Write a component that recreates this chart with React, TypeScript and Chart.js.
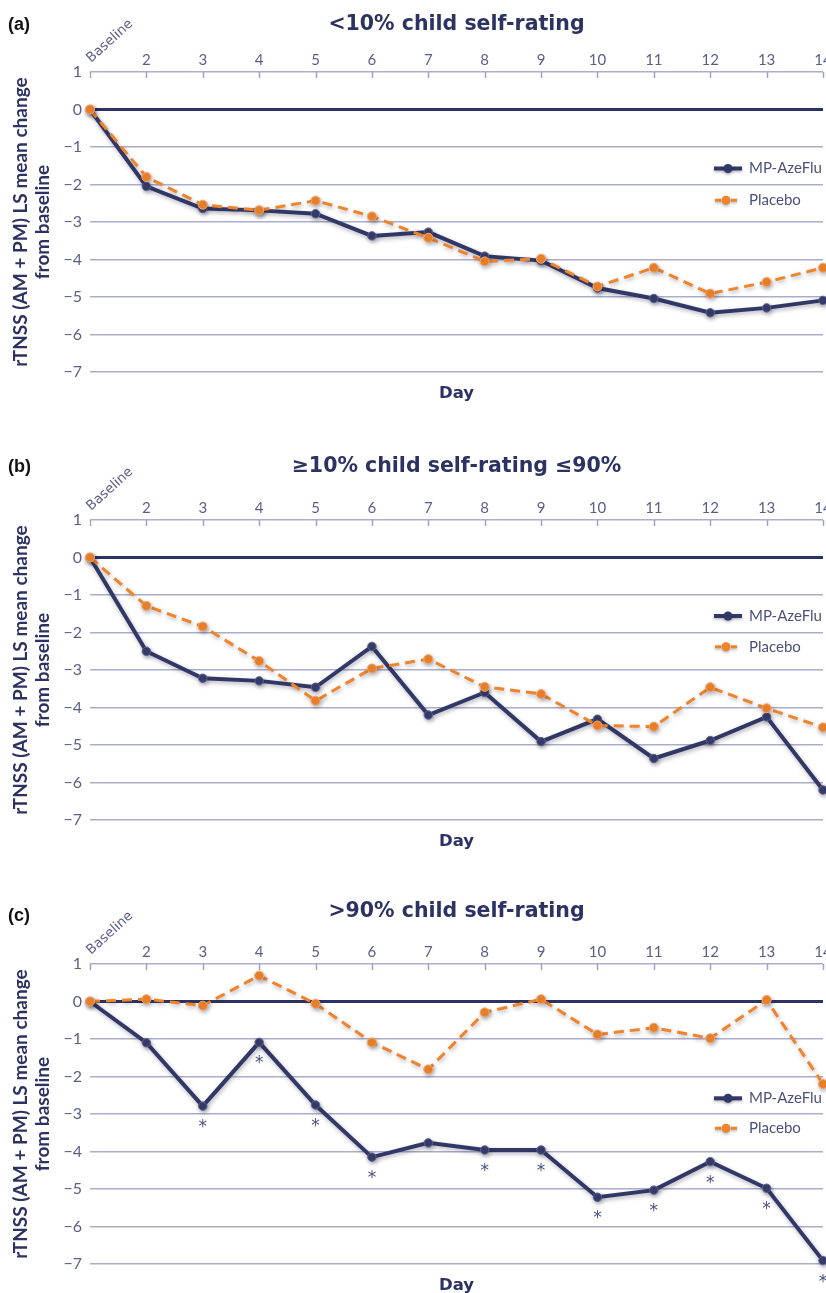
import React, { useEffect, useRef } from "react";
import { Chart, registerables } from "chart.js";

Chart.register(...registerables);

// ---------- data ----------
const days = ["Baseline", "2", "3", "4", "5", "6", "7", "8", "9", "10", "11", "12", "13", "14"];
const seriesNames = ["MP-AzeFlu", "Placebo"];

const aAze = [0, -2.05, -2.64, -2.69, -2.78, -3.37, -3.27, -3.91, -4.03, -4.76, -5.04, -5.42, -5.29, -5.09];
const aPla = [0, -1.8, -2.54, -2.69, -2.43, -2.85, -3.42, -4.05, -3.98, -4.72, -4.22, -4.91, -4.6, -4.22];

const bAze = [0, -2.5, -3.22, -3.29, -3.46, -2.37, -4.2, -3.6, -4.91, -4.31, -5.36, -4.88, -4.25, -6.2];
const bPla = [0, -1.29, -1.84, -2.76, -3.82, -2.96, -2.71, -3.45, -3.64, -4.48, -4.51, -3.46, -4.02, -4.53];

const cAze = [0, -1.1, -2.79, -1.09, -2.76, -4.15, -3.77, -3.96, -3.96, -5.22, -5.03, -4.27, -4.98, -6.91];
const cPla = [0, 0.06, -0.11, 0.69, -0.06, -1.09, -1.81, -0.29, 0.06, -0.88, -0.7, -0.98, 0.04, -2.2];
const cSig = [false, false, true, true, true, true, false, true, true, true, true, true, true, true];

const yMin = -7;
const yMax = 1;
const yTitle = ["rTNSS (AM + PM) LS mean change", "from baseline"];
const xTitle = "Day";

// ---------- styles ----------
const NAVY = "#2c3262";
const LINE_NAVY = "#323866";
const ORANGE = "#f0842a";
const LAV = "#abadcb";
const TICK_COLOR = "#5a5f86";
const FONT = "Lato, 'Open Sans', sans-serif";
const GEO = "'DejaVu Sans', sans-serif";

const CANVAS_W = 836;
const CHART_TOP = 72;
const CHART_BOTTOM = 372;

type PanelCfg = {
  tag: string;
  title: string;
  aze: number[];
  pla: number[];
  sig?: boolean[];
  top: number;
  height: number;
  titleGap: number;
  tagGap: number;
  legendY: [number, number];
};

const panels: PanelCfg[] = [
  { tag: "(a)", title: "<10% child self-rating", aze: aAze, pla: aPla, top: 0, height: 440, titleGap: 42, tagGap: 42, legendY: [96.5, 128.3] },
  { tag: "(b)", title: "\u226510% child self-rating \u226490%", aze: bAze, pla: bPla, top: 448, height: 444, titleGap: 48, tagGap: 48, legendY: [96, 126.7] },
  { tag: "(c)", title: ">90% child self-rating", aze: cAze, pla: cPla, sig: cSig, top: 892, height: 401, titleGap: 47, tagGap: 43, legendY: [134.3, 164.3] },
];

function makeDecor(cfg: PanelCfg) {
  return {
    id: "decor" + cfg.tag,
    beforeDatasetDraw(chart: any) {
      const ctx = chart.ctx;
      ctx.save();
      ctx.shadowColor = "rgba(40,40,70,0.35)";
      ctx.shadowBlur = 4;
      ctx.shadowOffsetX = 1;
      ctx.shadowOffsetY = 2;
    },
    afterDatasetDraw(chart: any) {
      chart.ctx.restore();
    },
    afterDraw(chart: any) {
      const ctx = chart.ctx;
      const ca = chart.chartArea;
      const xs = chart.scales.x;
      const cx = (ca.left + ca.right) / 2;
      ctx.save();
      // tick marks pointing down from top axis line
      ctx.strokeStyle = "#9ea1c1";
      ctx.lineWidth = 1.5;
      for (let i = 0; i < days.length; i++) {
        const x = Math.round(xs.getPixelForValue(i)) + 0.5;
        ctx.beginPath();
        ctx.moveTo(x, ca.top);
        ctx.lineTo(x, ca.top + 6);
        ctx.stroke();
      }
      // rotated Baseline label
      ctx.save();
      ctx.translate(xs.getPixelForValue(0) + 1, ca.top - 9);
      ctx.rotate((-42 * Math.PI) / 180);
      ctx.fillStyle = TICK_COLOR;
      ctx.font = `13.5px ${GEO}`;
      ctx.textAlign = "left";
      ctx.textBaseline = "alphabetic";
      ctx.fillText(days[0], 0, 0);
      ctx.restore();
      // panel tag
      ctx.fillStyle = "#111";
      ctx.font = `bold 18px 'Liberation Sans', Arial, sans-serif`;
      ctx.textAlign = "left";
      ctx.textBaseline = "alphabetic";
      ctx.fillText(cfg.tag, 8, ca.top - cfg.tagGap);
      // title
      ctx.fillStyle = NAVY;
      ctx.font = `bold 20.5px ${GEO}`;
      ctx.textAlign = "center";
      ctx.fillText(cfg.title, cx, ca.top - cfg.titleGap);
      // x title
      ctx.font = `bold 16.5px ${GEO}`;
      ctx.fillText(xTitle, cx, ca.bottom + 26);
      // legend
      const lx0 = 714, lx1 = 742, lxc = 728, tx = 749;
      const ly0 = ca.top + cfg.legendY[0];
      const ly1 = ca.top + cfg.legendY[1];
      ctx.save();
      ctx.shadowColor = "rgba(40,40,70,0.35)";
      ctx.shadowBlur = 3;
      ctx.shadowOffsetY = 1.5;
      ctx.strokeStyle = LINE_NAVY;
      ctx.lineWidth = 4;
      ctx.beginPath();
      ctx.moveTo(lx0, ly0);
      ctx.lineTo(lx1, ly0);
      ctx.stroke();
      ctx.fillStyle = LINE_NAVY;
      ctx.beginPath();
      ctx.arc(lxc, ly0, 4.5, 0, Math.PI * 2);
      ctx.fill();
      ctx.strokeStyle = ORANGE;
      ctx.lineWidth = 3;
      ctx.beginPath();
      ctx.moveTo(715, ly1);
      ctx.lineTo(721, ly1);
      ctx.moveTo(731, ly1);
      ctx.lineTo(737, ly1);
      ctx.stroke();
      ctx.fillStyle = ORANGE;
      ctx.beginPath();
      ctx.arc(726, ly1, 4.5, 0, Math.PI * 2);
      ctx.fill();
      ctx.restore();
      ctx.fillStyle = "#4c5177";
      ctx.font = `15px ${FONT}`;
      ctx.textAlign = "left";
      ctx.textBaseline = "middle";
      ctx.fillText(seriesNames[0], tx, ly0);
      ctx.fillText(seriesNames[1], tx, ly1);
      // significance asterisks
      if (cfg.sig) {
        const meta = chart.getDatasetMeta(0);
        ctx.fillStyle = "#4a5080";
        ctx.font = `17px ${GEO}`;
        ctx.textAlign = "center";
        ctx.textBaseline = "alphabetic";
        cfg.sig.forEach((s, i) => {
          if (!s) return;
          const p = meta.data[i];
          ctx.fillText("*", p.x, p.y + 26);
        });
      }
      ctx.restore();
    },
  };
}

function Panel({ cfg }: { cfg: PanelCfg }) {
  const ref = useRef<HTMLCanvasElement>(null);
  useEffect(() => {
    const canvas = ref.current;
    if (!canvas) return;
    const chart = new Chart(canvas, {
      type: "line",
      data: {
        labels: days,
        datasets: [
          {
            label: seriesNames[0],
            data: cfg.aze,
            borderColor: LINE_NAVY,
            borderWidth: 4,
            pointRadius: 4.2,
            pointBackgroundColor: "#363c6c",
            pointBorderColor: "#5d628c",
            pointBorderWidth: 1,
            tension: 0,
            order: 2,
            clip: false,
          },
          {
            label: seriesNames[1],
            data: cfg.pla,
            borderColor: ORANGE,
            borderWidth: 3,
            borderDash: [10, 6],
            pointRadius: 4.5,
            pointBackgroundColor: ORANGE,
            pointBorderColor: "#f6a566",
            pointBorderWidth: 1,
            tension: 0,
            order: 1,
            clip: false,
          },
        ],
      } as any,
      options: {
        responsive: false,
        animation: false,
        events: [],
        layout: { padding: { top: 0, left: 0, right: CANVAS_W - 823, bottom: cfg.height - CHART_BOTTOM } },
        plugins: { legend: { display: false }, tooltip: { enabled: false }, title: { display: false } },
        scales: {
          x: {
            position: "top",
            grid: { display: false, drawTicks: false },
            border: { display: false },
            ticks: {
              color: TICK_COLOR,
              font: { family: FONT, size: 15 },
              padding: 3,
              maxRotation: 0,
              autoSkip: false,
              callback: (_v: any, i: number) => (i === 0 ? "" : days[i]),
            },
            afterFit: (s: any) => {
              s.height = CHART_TOP;
            },
          },
          y: {
            min: yMin,
            max: yMax,
            grid: {
              drawTicks: false,
              color: (c: any) => (c.tick && c.tick.value === 0 ? NAVY : LAV),
              lineWidth: (c: any) => (c.tick && c.tick.value === 0 ? 3 : 1.5),
            },
            border: { display: false },
            ticks: {
              stepSize: 1,
              color: TICK_COLOR,
              font: { family: FONT, size: 16 },
              padding: 8,
              callback: (v: any) => (v < 0 ? "\u2212" + Math.abs(v) : String(v)),
            },
            title: {
              display: true,
              text: yTitle,
              color: NAVY,
              font: { family: FONT, size: 19, weight: "bold", lineHeight: 1.15 },
              padding: { top: 10, bottom: 0 },
            },
            afterFit: (s: any) => {
              s.width = 90;
            },
          },
        },
      } as any,
      plugins: [makeDecor(cfg)],
    });
    return () => chart.destroy();
  }, [cfg]);
  return (
    <canvas
      ref={ref}
      width={CANVAS_W}
      height={cfg.height}
      style={{ position: "absolute", left: 0, top: cfg.top, display: "block" }}
    />
  );
}

export default function App() {
  return (
    <div style={{ position: "absolute", left: 0, top: 0, width: 826, height: 1293, overflow: "hidden", background: "#fff" }}>
      {panels.map((p) => (
        <Panel key={p.tag} cfg={p} />
      ))}
    </div>
  );
}
